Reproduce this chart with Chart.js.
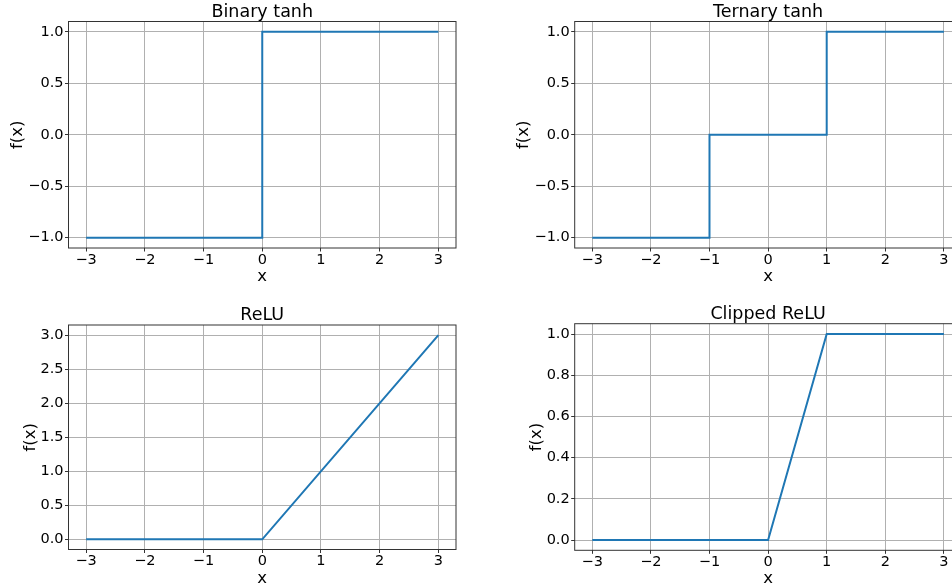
<!DOCTYPE html>
<html>
<head>
<meta charset="utf-8">
<script src="https://cdn.jsdelivr.net/npm/chart.js@4"></script>
<style>
  html, body { margin: 0; padding: 0; background: #fff; overflow: hidden; width: 952px; height: 586px; }
  canvas { position: absolute; }
</style>
</head>
<body>
<canvas id="binary" width="476" height="290" style="left:0;top:0"></canvas>
<canvas id="ternary" width="500" height="290" style="left:476px;top:0"></canvas>
<canvas id="relu" width="476" height="310" style="left:0;top:290px"></canvas>
<canvas id="clipped" width="500" height="310" style="left:476px;top:290px"></canvas>
<script>
// data
const xTicks = [-3, -2, -1, 0, 1, 2, 3];
const tanhTicks = [-1, -0.5, 0, 0.5, 1];
const reluTicks = [0, 0.5, 1, 1.5, 2, 2.5, 3];
const clippedTicks = [0, 0.2, 0.4, 0.6, 0.8, 1];

const binaryX = [-3, 0, 0, 3];
const binaryY = [-1, -1, 1, 1];
const ternaryX = [-3, -1, -1, 1, 1, 3];
const ternaryY = [-1, -1, 0, 0, 1, 1];
const reluX = [-3, 0, 3];
const reluY = [0, 0, 3];
const clippedX = [-3, 0, 1, 3];
const clippedY = [0, 0, 1, 1];

Chart.defaults.font.family = "'DejaVu Sans', sans-serif";
Chart.defaults.color = '#000';

const minus = s => s.replace('-', '\u2212');

// matplotlib style box around the axes
const framePlugin = {
  id: 'frame',
  afterDatasetsDraw(chart) {
    const { ctx, chartArea: a } = chart;
    ctx.save();
    ctx.strokeStyle = '#333';
    ctx.lineWidth = 1;
    ctx.strokeRect(a.left, a.top, a.right - a.left, a.bottom - a.top);
    ctx.restore();
  }
};

function makePlot(id, o) {
  new Chart(document.getElementById(id), {
    type: 'line',
    data: {
      datasets: [{
        data: o.xs.map((x, i) => ({ x: x, y: o.ys[i] })),
        borderColor: '#1f77b4',
        borderWidth: 2,
        pointRadius: 0,
        fill: false,
        tension: 0
      }]
    },
    options: {
      responsive: false,
      devicePixelRatio: 1,
      animation: false,
      layout: { padding: { left: 0, right: o.padRight, top: 0, bottom: 0 } },
      plugins: {
        legend: { display: false },
        tooltip: { enabled: false },
        title: {
          display: true,
          text: o.title,
          fullSize: false,
          color: '#000',
          font: { size: 17.5, weight: 'normal', lineHeight: 1 },
          padding: { top: o.titleTop, bottom: o.titleBottom }
        }
      },
      scales: {
        x: {
          type: 'linear',
          min: -3.3, max: 3.3,
          afterBuildTicks: s => { s.ticks = xTicks.map(v => ({ value: v })); },
          afterFit: s => { s.height = o.xHeight; },
          ticks: { font: { size: 14.5 }, padding: 0, autoSkip: false, maxRotation: 0,
                   callback: v => minus(String(v)) },
          grid: { color: '#b0b0b0', lineWidth: 1, tickColor: '#333', tickLength: 3.5, tickWidth: 1 },
          border: { display: false },
          title: { display: true, text: 'x', font: { size: 16.5 }, padding: { top: 0, bottom: o.xTitlePad } }
        },
        y: {
          type: 'linear',
          min: o.ymin, max: o.ymax,
          afterBuildTicks: s => { s.ticks = o.yTicks.map(v => ({ value: v })); },
          afterFit: s => { s.width = o.yWidth; },
          ticks: { font: { size: 14.5 }, padding: 1.5, autoSkip: false,
                   callback: v => minus(v.toFixed(1)) },
          grid: { color: '#b0b0b0', lineWidth: 1, tickColor: '#333', tickLength: 3.5, tickWidth: 1 },
          border: { display: false },
          title: { display: true, text: 'f(x)', font: { size: 16.5 }, padding: { top: o.yTitlePad, bottom: 0 } }
        }
      }
    },
    plugins: [framePlugin]
  });
}

makePlot('binary', {
  title: 'Binary tanh', xs: binaryX, ys: binaryY, ymin: -1.1, ymax: 1.1, yTicks: tanhTicks,
  padRight: 20, yWidth: 68.5, xHeight: 42, titleTop: 4, titleBottom: 0, xTitlePad: 3.1, yTitlePad: 7.6
});
makePlot('ternary', {
  title: 'Ternary tanh', xs: ternaryX, ys: ternaryY, ymin: -1.1, ymax: 1.1, yTicks: tanhTicks,
  padRight: 14.5, yWidth: 98.7, xHeight: 42, titleTop: 4, titleBottom: 0, xTitlePad: 3.1, yTitlePad: 38.1
});
makePlot('relu', {
  title: 'ReLU', xs: reluX, ys: reluY, ymin: -0.15, ymax: 3.15, yTicks: reluTicks,
  padRight: 20, yWidth: 68.5, xHeight: 50.5, titleTop: 17, titleBottom: 0.5, xTitlePad: 11.1, yTitlePad: 21.1
});
makePlot('clipped', {
  title: 'Clipped ReLU', xs: clippedX, ys: clippedY, ymin: -0.05, ymax: 1.05, yTicks: clippedTicks,
  padRight: 14.5, yWidth: 98.7, xHeight: 49.7, titleTop: 16.2, titleBottom: 0, xTitlePad: 11.1, yTitlePad: 51.1
});
</script>
</body>
</html>
